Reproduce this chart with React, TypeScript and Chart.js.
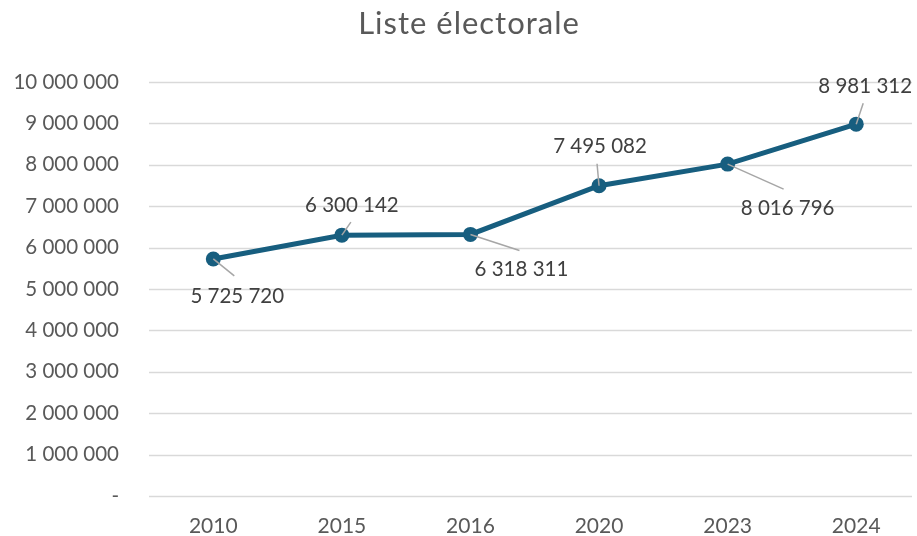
import React, { useEffect, useRef } from "react";
import { Chart, registerables } from "chart.js";

Chart.register(...registerables);

const chartTitle = "Liste électorale";
const categories = ["2010", "2015", "2016", "2020", "2023", "2024"];
const voters = [5725720, 6300142, 6318311, 7495082, 8016796, 8981312];
const yMin = 0;
const yMax = 10000000;
const yStep = 1000000;

// label placement styles (offset of label centre from its point, and leader-line end)
const labelOffsets = [[24, 37], [10, -30], [51, 35], [1, -39], [60, 44], [9, -38]];
const leaderEnds = [[21, 17], [9, -13], [49, 16], [-2, -22], [56, 25], [7, -21]];

const FONT = "Lato, 'Open Sans', sans-serif";
const LINE_COLOR = "#175E7F";

function fmt(v: number): string {
  if (v === 0) return "-";
  return Math.round(v).toString().replace(/\B(?=(\d{3})+(?!\d))/g, " ");
}

const gridPlugin = {
  id: "customGrid",
  beforeDatasetsDraw(chart: any) {
    const { ctx, chartArea } = chart;
    const y = chart.scales.y;
    ctx.save();
    ctx.strokeStyle = "#D9D9D9";
    ctx.lineWidth = 1.5;
    y.ticks.forEach((t: any) => {
      const py = Math.round(y.getPixelForValue(t.value)) + 0.5;
      ctx.beginPath();
      ctx.moveTo(chartArea.left, py);
      ctx.lineTo(Math.min(chartArea.right - 8, 912), py);
      ctx.stroke();
    });
    ctx.restore();
  },
};

const labelPlugin = {
  id: "dataLabels",
  afterDatasetsDraw(chart: any) {
    const { ctx } = chart;
    const meta = chart.getDatasetMeta(0);
    ctx.save();
    meta.data.forEach((pt: any, i: number) => {
      const x = pt.x;
      const y = pt.y;
      const [lx, ly] = leaderEnds[i];
      ctx.strokeStyle = "#A6A6A6";
      ctx.lineWidth = 1.5;
      ctx.beginPath();
      ctx.moveTo(x, y);
      ctx.lineTo(x + lx, y + ly);
      ctx.stroke();
      const [dx, dy] = labelOffsets[i];
      ctx.fillStyle = "#404040";
      ctx.font = `20.5px ${FONT}`;
      ctx.textAlign = "center";
      ctx.textBaseline = "middle";
      ctx.fillText(fmt(voters[i]), x + dx, y + dy);
    });
    ctx.restore();
  },
  afterDraw(chart: any) {
    const { ctx } = chart;
    ctx.save();
    ctx.fillStyle = "#595959";
    ctx.font = `31px ${FONT}`;
    try {
      (ctx as any).letterSpacing = "1px";
    } catch (e) {}
    ctx.textAlign = "center";
    ctx.textBaseline = "alphabetic";
    ctx.fillText(chartTitle, 469, 34);
    ctx.restore();
  },
};

export default function App() {
  const ref = useRef<HTMLCanvasElement | null>(null);
  useEffect(() => {
    if (!ref.current) return;
    const chart = new Chart(ref.current, {
      type: "line",
      data: {
        labels: categories,
        datasets: [
          {
            data: voters,
            borderColor: LINE_COLOR,
            backgroundColor: LINE_COLOR,
            borderWidth: 5,
            pointRadius: 7.5,
            pointBorderWidth: 0,
            pointBackgroundColor: LINE_COLOR,
            tension: 0,
          },
        ],
      },
      plugins: [gridPlugin, labelPlugin],
      options: {
        animation: false,
        responsive: false,
        devicePixelRatio: 1,
        layout: { padding: { top: 82, right: 1, left: 0, bottom: 0 } },
        plugins: {
          legend: { display: false },
          title: { display: false },
          tooltip: { enabled: false },
        },
        scales: {
          x: {
            offset: true,
            grid: { display: false, drawTicks: false },
            border: { display: false },
            ticks: { color: "#595959", font: { family: FONT, size: 21 }, padding: 18 },
            afterFit: (s: any) => {
              s.height = 40;
            },
          },
          y: {
            min: yMin,
            max: yMax,
            grid: { display: false, drawTicks: false },
            border: { display: false },
            ticks: {
              stepSize: yStep,
              color: "#595959",
              font: { family: FONT, size: 20.5 },
              padding: 30,
              callback: (v: any) => fmt(Number(v)),
            },
            afterFit: (s: any) => {
              s.width = 149;
              s.paddingTop = 0;
              s.paddingBottom = 0;
            },
          },
        },
      },
    });
    return () => chart.destroy();
  }, []);
  return (
    <div style={{ position: "absolute", left: 0, top: 0, width: 917, height: 536, overflow: "hidden", background: "#fff" }}>
      <canvas ref={ref} width={928} height={536} style={{ display: "block", width: 928, height: 536 }} />
    </div>
  );
}
